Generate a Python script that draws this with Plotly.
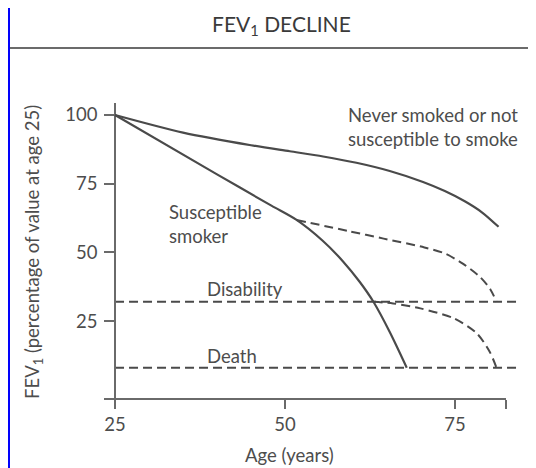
import plotly.graph_objects as go

# ---- data ----
age_never = [25, 35, 45, 50.7, 55.6, 60.5, 65.4, 70.3, 73.5, 76.5, 79, 81.4]
fev_never = [100, 93.6, 89.0, 86.8, 84.9, 82.6, 79.6, 75.6, 72.3, 68.5, 64.5, 59.3]

age_smoker = [25, 40, 48, 51.7, 55.5, 58.5, 61, 63, 65.4, 67.9]
fev_smoker = [100, 78.4, 67.0, 61.8, 54.3, 46.8, 39.2, 32.0, 21.0, 8.0]

age_quit_early = [51.7, 59.6, 64.5, 70.5, 73.5, 76.2, 78.7, 80.2, 81.1]
fev_quit_early = [61.8, 57.6, 55.0, 51.8, 49.6, 45.8, 41.0, 36.5, 32.0]

age_quit_late = [63.0, 65.9, 69.9, 74.8, 78.2, 80.1, 81.1]
fev_quit_late = [32.0, 31.4, 29.6, 26.0, 20.5, 13.8, 8.0]

threshold_names = ["Disability", "Death"]
threshold_values = [32, 8]
threshold_label_y = [36.7, 12.3]
threshold_span = [25, 84.6]

x_ticks = [25, 50, 75]
y_ticks = [25, 50, 75, 100]

title_text = "FEV<sub>1</sub> DECLINE"
y_title = "FEV<sub>1</sub> (percentage of value at age 25)"
x_title = "Age (years)"
label_never = "Never smoked or not<br>susceptible to smoke"
label_smoker = "Susceptible<br>smoker"

# ---- styling ----
FONT = "Lato"
FS = 18.5
TXT = "#4d4d4d"
LINE = "#4a4a4a"
AX = "#6a6a6a"
BLUE = "#0202fb"
CLEAR = "rgba(0,0,0,0)"

OFF = 8                      # page body margin
W, H = 536 - OFF, 468 - OFF
L, R, T, B = 96, 16, 95, 60
pw, ph = W - L - R, H - T - B
XS = 6.8                     # px per year
X0 = 23.38
x_end = X0 + (506 - 104) / XS

def px(xr):  # reference window x -> paper
    return (xr - OFF - L) / pw

def py(yr):  # reference window y -> paper
    return (H - B - (yr - OFF)) / ph

fig = go.Figure()

solid = dict(color=LINE, width=2.2)
dashed = dict(color=LINE, width=2.0, dash="9px,5px")

for name, v, ly in zip(threshold_names, threshold_values, threshold_label_y):
    fig.add_trace(go.Scatter(x=threshold_span, y=[v, v], mode="lines", line=dict(**dashed)))
    fig.add_annotation(x=38.2, y=ly, xref="x", yref="y", text=name, showarrow=False,
                       xanchor="left", yanchor="middle",
                       font=dict(family=FONT, size=FS, color=TXT))

fig.add_trace(go.Scatter(x=age_never, y=fev_never, mode="lines", xaxis="x2", yaxis="y",
                         line=dict(shape="spline", smoothing=0.8, **solid)))
fig.add_trace(go.Scatter(x=age_smoker, y=fev_smoker, mode="lines", xaxis="x2", yaxis="y",
                         line=dict(shape="spline", smoothing=0.8, **solid)))
fig.add_trace(go.Scatter(x=age_quit_early, y=fev_quit_early, mode="lines", xaxis="x2", yaxis="y",
                         line=dict(shape="spline", smoothing=0.8, **dashed)))
fig.add_trace(go.Scatter(x=age_quit_late, y=fev_quit_late, mode="lines", xaxis="x2", yaxis="y",
                         line=dict(shape="spline", smoothing=0.8, **dashed)))

fig.update_layout(
    width=W, height=H,
    margin=dict(l=L, r=R, t=T, b=B),
    paper_bgcolor="white", plot_bgcolor=CLEAR,
    showlegend=False,
    font=dict(family=FONT, color=TXT, size=FS),
    xaxis=dict(domain=[0, 1], range=[X0, X0 + pw / XS], visible=False,
               showgrid=False, zeroline=False),
    xaxis2=dict(domain=[0, (506 - 104) / pw], range=[X0, x_end],
                anchor="free", position=py(399),
                tickvals=x_ticks + [x_end], ticktext=[str(t) for t in x_ticks] + [""],
                ticks="outside", ticklen=9, tickwidth=1.5, tickcolor=AX,
                showline=True, linecolor=AX, linewidth=1.5,
                showgrid=False, zeroline=False,
                tickfont=dict(family=FONT, size=FS, color=TXT)),
    yaxis=dict(domain=[0, 1], range=[-6.66, 104.37],
               anchor="free", position=px(115),
               tickvals=y_ticks, ticks="outside", ticklen=10, tickwidth=1.5, tickcolor=AX,
               ticklabelstandoff=3,
               showline=True, linecolor=AX, linewidth=1.5,
               showgrid=False, zeroline=False,
               tickfont=dict(family=FONT, size=FS, color=TXT)),
)

# text labels
fig.add_annotation(x=X0 + pw / XS, y=95.6, xref="x", yref="y", text=label_never, showarrow=False,
                   xanchor="right", yanchor="middle", align="right",
                   font=dict(family=FONT, size=FS, color=TXT))
fig.add_annotation(x=32.6, y=60.3, xref="x", yref="y", text=label_smoker, showarrow=False,
                   xanchor="left", yanchor="middle", align="left",
                   font=dict(family=FONT, size=FS, color=TXT))
fig.add_annotation(x=px(33), y=py(252), xref="paper", yref="paper", text=y_title,
                   showarrow=False, textangle=-90, xanchor="center", yanchor="middle",
                   font=dict(family=FONT, size=FS, color=TXT))
fig.add_annotation(x=px(289), y=py(455), xref="paper", yref="paper", text=x_title,
                   showarrow=False, xanchor="center", yanchor="middle",
                   font=dict(family=FONT, size=FS, color=TXT))
fig.add_annotation(x=px(281), y=py(25), xref="paper", yref="paper", text=title_text,
                   showarrow=False, xanchor="center", yanchor="middle",
                   font=dict(family=FONT, size=21, color="#3a3a3a"))

# title rule and blue frame
fig.add_shape(type="line", xref="paper", yref="paper", x0=px(10), x1=px(536), y0=py(48), y1=py(48),
              line=dict(color="#3a3a3a", width=1.6))
fig.add_shape(type="rect", xref="paper", yref="paper", x0=px(0), x1=px(10), y0=py(468), y1=py(0),
              line=dict(width=0), fillcolor=BLUE)
fig.add_shape(type="rect", xref="paper", yref="paper", x0=px(0), x1=px(536), y0=py(3), y1=py(0),
              line=dict(width=0), fillcolor=BLUE)

fig.write_html("out.html")
